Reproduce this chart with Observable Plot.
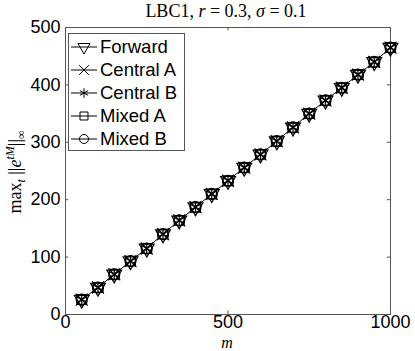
<!DOCTYPE html>
<html>
<head>
<meta charset="utf-8">
<script src="https://cdn.jsdelivr.net/npm/d3@7"></script>
<script src="https://cdn.jsdelivr.net/npm/@observablehq/plot@0.6"></script>
<style>
  html, body { margin: 0; padding: 0; background: #fff; }
  #chart svg { display: block; }
</style>
</head>
<body>
<div id="chart"></div>
<script>
const mValues = [50,100,150,200,250,300,350,400,450,500,550,600,650,700,750,800,850,900,950,1000];
const normValues = [26,47,70,93,115,140,164,187,210,233,256,279,302,326,350,373,395,418,440,465];
const seriesNames = ["Forward","Central A","Central B","Mixed A","Mixed B"];
const seriesSymbols = ["triangle","times","asterisk","square","circle"];
const seriesRotate = [180,0,0,0,0];
const xTicks = [0,500,1000];
const yTicks = [0,100,200,300,400,500];

const data = mValues.map((m,i) => ({m, v: normValues[i]}));

const frameColor = "#555";
const W = 415, H = 351;
const mL = 65, mR = 25, mT = 27, mB = 37;

const dotMarks = seriesSymbols.map((s,i) => Plot.dot(data, {
  x: "m", y: "v", symbol: () => s, r: 5.5, rotate: seriesRotate[i],
  fill: "none", stroke: "black", strokeWidth: 1.2
}));

const chart = Plot.plot({
  width: W, height: H,
  marginLeft: mL, marginRight: mR, marginTop: mT, marginBottom: mB,
  style: {fontFamily: "'Liberation Sans', Arial, sans-serif", fontSize: "18px", background: "white", color: "black"},
  x: {domain: [0,1000]},
  y: {domain: [0,500]},
  symbol: {type: "identity"},
  marks: [
    Plot.frame({stroke: frameColor, strokeWidth: 1}),
    Plot.ruleX(xTicks, {x: d => d, y1: 0, y2: 6, stroke: frameColor}),
    Plot.ruleX(xTicks, {x: d => d, y1: 494, y2: 500, stroke: frameColor}),
    Plot.ruleY(yTicks, {y: d => d, x1: 0, x2: 10, stroke: frameColor}),
    Plot.ruleY(yTicks, {y: d => d, x1: 990, x2: 1000, stroke: frameColor}),
    Plot.axisX({ticks: xTicks, tickSize: 0, tickPadding: 1, label: null, fontSize: 18, tickFormat: d3.format("d")}),
    Plot.axisY({ticks: yTicks, tickSize: 0, tickPadding: 5, label: null, fontSize: 18, tickFormat: d3.format("d")}),
    Plot.line(data, {x: "m", y: "v", stroke: "black", strokeWidth: 1}),
    ...dotMarks
  ]
});

document.getElementById("chart").appendChild(chart);

const svg = d3.select(chart);
const serif = "'Liberation Serif', 'DejaVu Serif', serif";

// Title
const title = svg.append("text")
  .attr("x", 226).attr("y", 17)
  .attr("text-anchor", "middle")
  .attr("font-family", serif).attr("font-size", 18).attr("fill", "black");
title.append("tspan").text("LBC1, ");
title.append("tspan").attr("font-style", "italic").text("r");
title.append("tspan").text(" = 0.3, ");
title.append("tspan").attr("font-style", "italic").text("σ");
title.append("tspan").text(" = 0.1");

// X label
svg.append("text")
  .attr("x", 227).attr("y", 348)
  .attr("text-anchor", "middle")
  .attr("font-family", serif).attr("font-size", 16).attr("font-style", "italic")
  .attr("fill", "black").text("m");

// Y label
const yl = svg.append("text")
  .attr("transform", "translate(21,172) rotate(-90)")
  .attr("text-anchor", "middle")
  .attr("font-family", serif).attr("font-size", 18).attr("fill", "black");
yl.append("tspan").text("max");
yl.append("tspan").attr("font-style", "italic").attr("font-size", 12).attr("dy", 4).text("t");
yl.append("tspan").attr("dy", -4).text(" ||");
yl.append("tspan").attr("font-style", "italic").text("e");
yl.append("tspan").attr("font-style", "italic").attr("font-size", 12).attr("dy", -7).text("tM");
yl.append("tspan").attr("dy", 7).text("||");
yl.append("tspan").attr("font-size", 12).attr("dy", 4).text("∞");

// Legend
const lg = svg.append("g").attr("text-anchor", "start");
lg.append("rect").attr("x", 68.5).attr("y", 33.5).attr("width", 116).attr("height", 117)
  .attr("fill", "white").attr("stroke", frameColor);
const rowY = [47, 70, 93, 116, 139];
const symMap = {triangle: d3.symbolTriangle, times: d3.symbolTimes, asterisk: d3.symbolAsterisk, square: d3.symbolSquare, circle: d3.symbolCircle};
seriesNames.forEach((name, i) => {
  const y = rowY[i];
  lg.append("line").attr("x1", 71).attr("x2", 97).attr("y1", y).attr("y2", y).attr("stroke", "black");
  lg.append("path")
    .attr("d", d3.symbol(symMap[seriesSymbols[i]], Math.PI * 4.5 * 4.5)())
    .attr("transform", `translate(84,${y}) rotate(${seriesRotate[i]})`)
    .attr("fill", "none").attr("stroke", "black").attr("stroke-width", 1);
  lg.append("text").attr("x", 100).attr("y", y).attr("dy", "0.35em")
    .attr("text-anchor", "start")
    .attr("font-family", "'Liberation Sans', Arial, sans-serif").attr("font-size", 18.5)
    .attr("fill", "black").text(name);
});
</script>
</body>
</html>
